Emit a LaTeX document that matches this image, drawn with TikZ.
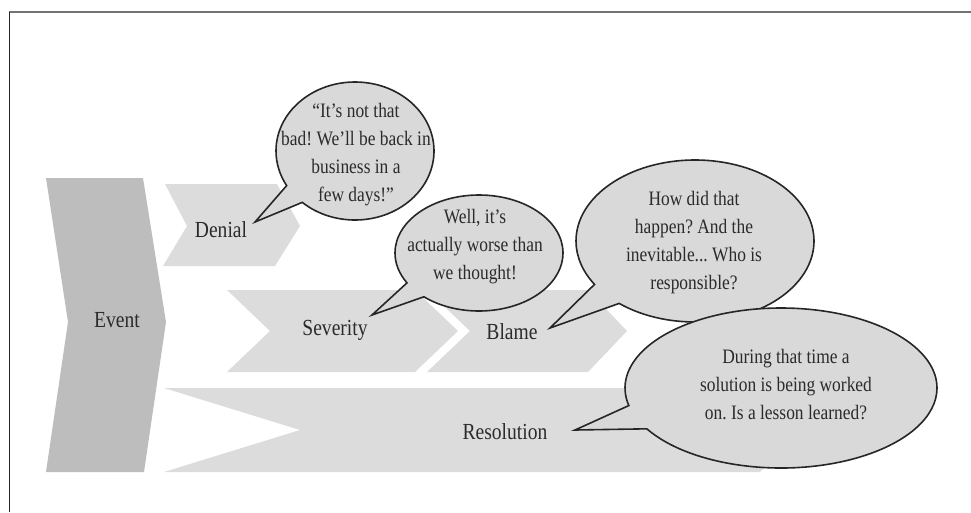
\documentclass[tikz,border=0pt]{standalone}
\usepackage{fontspec}
\newfontfamily\dfont{Liberation Serif}[Ligatures=TeX,FakeStretch=0.85]
\usetikzlibrary{shapes.callouts}
\definecolor{chev}{HTML}{DCDCDC}
\definecolor{chevdark}{HTML}{BDBDBD}
\definecolor{bub}{HTML}{D9D9D9}
\definecolor{txt}{HTML}{2B2B2B}
\begin{document}
\frenchspacing
\begin{tikzpicture}[x=1pt,y=-1pt,
  chevron/.style={fill=chev, draw=none},
  lbl/.style={font=\dfont\fontsize{23}{28}\selectfont, text=txt, inner sep=1pt},
  bubble/.style={ellipse callout, draw=black!85, fill=bub, line width=1.6pt, inner sep=0pt, callout pointer arc=18},
  btext/.style={font=\dfont\fontsize{20.5}{28}\selectfont\frenchspacing, text=txt, align=center, inner sep=0pt},
  frameline/.style={line width=1.5pt}]
\useasboundingbox (0,0) rectangle (971,512);
% frame
\draw[frameline, draw=black!55] (9,12) -- (971,12);
\draw[frameline, draw=black!85] (9.5,12) -- (9.5,512);
% chevrons
\fill[fill=chevdark] (46,178) -- (143,178) -- (166,322) -- (144,472) -- (46,472) -- (68,322) -- cycle;
\fill[chevron] (165,184) -- (277,184) -- (300,226) -- (275,266) -- (163,266) -- (187,226) -- cycle;
\fill[chevron] (227,290) -- (415,290) -- (458,331) -- (415,372) -- (227,372) -- (270,331) -- cycle;
\fill[chevron] (427,290) -- (588,290) -- (627,331) -- (588,372) -- (427,372) -- (470,331) -- cycle;
\fill[chevron] (164,388) -- (760,388) -- (800,430) -- (760,472) -- (164,472) -- (300,430) -- cycle;
% labels
\node[lbl] (event) at (117,320) {Event};
\node[lbl] (denial) at (221,230) {Denial};
\node[lbl] (severity) at (335,330) {Severity};
\node[lbl] (blame) at (512,332) {Blame};
\node[lbl] (resolution) at (505,432) {Resolution};
% pointer tips
\coordinate (dtip) at (255,222);
\coordinate (stip) at (372,315);
\coordinate (btip) at (550,328);
\coordinate (rtip) at (575,430);
% bubbles
\node[bubble, minimum width=158pt, minimum height=138pt, callout absolute pointer={(dtip)}] (dB) at (355,151) {};
\node[btext] (dT) at (356,155) {``It's not that\\bad! We'll be back in\\business in a\\few days!''};
\node[bubble, minimum width=168pt, minimum height=116pt, callout absolute pointer={(stip)}] (sB) at (479,253) {};
\node[btext] (sT) at (475,247) {Well, it's\\actually worse than\\we thought!};
\node[bubble, minimum width=238pt, minimum height=162pt, callout absolute pointer={(btip)}] (bB) at (695,241) {};
\node[btext] (bT) at (694,243) {How did that\\happen? And the\\inevitable... Who is\\responsible?};
\node[bubble, minimum width=312pt, minimum height=160pt, callout absolute pointer={(rtip)}] (rB) at (781,388) {};
\node[btext] (rT) at (786,385) {During that time a\\solution is being worked\\on. Is a lesson learned?};
\end{tikzpicture}
\end{document}
